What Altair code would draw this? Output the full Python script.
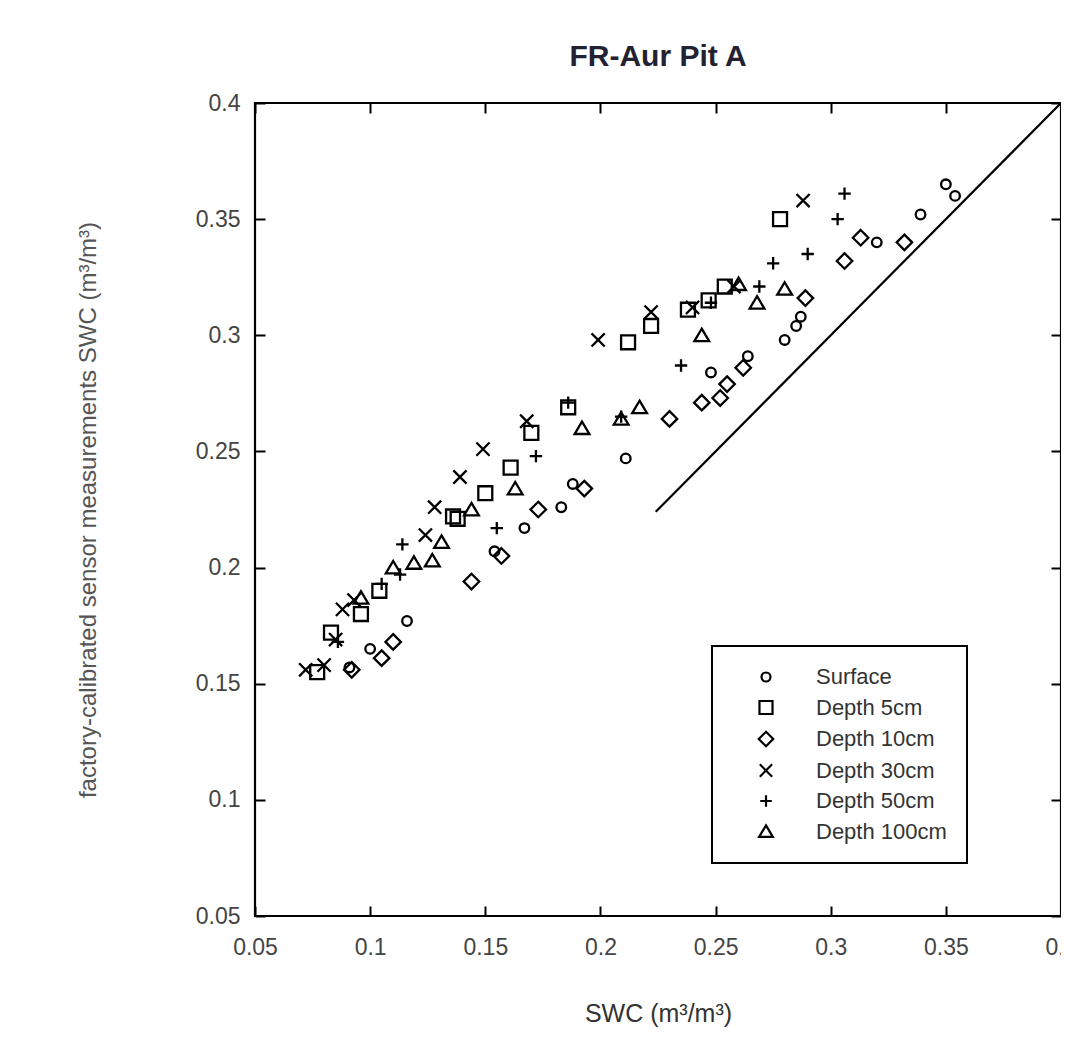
import altair as alt
import pandas as pd

# ---------------- data ----------------
series_names = ["Surface", "Depth 5cm", "Depth 10cm", "Depth 30cm", "Depth 50cm", "Depth 100cm"]

surface_x = [0.091, 0.100, 0.116, 0.154, 0.167, 0.183, 0.188, 0.211, 0.248, 0.264, 0.280, 0.285, 0.287, 0.320, 0.339, 0.350, 0.354]
surface_y = [0.157, 0.165, 0.177, 0.207, 0.217, 0.226, 0.236, 0.247, 0.284, 0.291, 0.298, 0.304, 0.308, 0.340, 0.352, 0.365, 0.360]

d5_x = [0.077, 0.083, 0.096, 0.104, 0.136, 0.138, 0.150, 0.161, 0.170, 0.186, 0.212, 0.222, 0.238, 0.247, 0.254, 0.278]
d5_y = [0.155, 0.172, 0.180, 0.190, 0.222, 0.221, 0.232, 0.243, 0.258, 0.269, 0.297, 0.304, 0.311, 0.315, 0.321, 0.350]

d10_x = [0.092, 0.105, 0.110, 0.144, 0.157, 0.173, 0.193, 0.230, 0.244, 0.252, 0.255, 0.262, 0.289, 0.306, 0.313, 0.332]
d10_y = [0.156, 0.161, 0.168, 0.194, 0.205, 0.225, 0.234, 0.264, 0.271, 0.273, 0.279, 0.286, 0.316, 0.332, 0.342, 0.340]

d30_x = [0.072, 0.080, 0.085, 0.088, 0.093, 0.124, 0.128, 0.139, 0.149, 0.168, 0.199, 0.222, 0.240, 0.258, 0.288]
d30_y = [0.156, 0.158, 0.169, 0.182, 0.186, 0.214, 0.226, 0.239, 0.251, 0.263, 0.298, 0.310, 0.312, 0.321, 0.358]

d50_x = [0.086, 0.105, 0.113, 0.114, 0.155, 0.172, 0.186, 0.209, 0.235, 0.248, 0.269, 0.275, 0.290, 0.303, 0.306]
d50_y = [0.168, 0.193, 0.197, 0.210, 0.217, 0.248, 0.271, 0.265, 0.287, 0.314, 0.321, 0.331, 0.335, 0.350, 0.361]

d100_x = [0.096, 0.110, 0.119, 0.127, 0.131, 0.144, 0.163, 0.192, 0.209, 0.217, 0.244, 0.260, 0.268, 0.280]
d100_y = [0.187, 0.200, 0.202, 0.203, 0.211, 0.225, 0.234, 0.260, 0.264, 0.269, 0.300, 0.322, 0.314, 0.320]

line_x = [0.224, 0.4]
line_y = [0.224, 0.4]

tick_values = [0.05, 0.1, 0.15, 0.2, 0.25, 0.3, 0.35, 0.4]

# marker outlines (custom paths in the -1..1 box)
shape_paths = [
    "M0.62,0A0.62,0.62,0,1,1,-0.62,0A0.62,0.62,0,1,1,0.62,0Z",
    "M-0.9,-0.9L0.9,-0.9L0.9,0.9L-0.9,0.9Z",
    "M0,-1L1,0L0,1L-1,0Z",
    "M-0.85,-0.85L0.85,0.85M-0.85,0.85L0.85,-0.85",
    "M-0.8,0L0.8,0M0,-0.8L0,0.8",
    "M0,-0.85L0.95,0.75L-0.95,0.75Z",
]

rows = []
for name, xs, ys in zip(series_names,
                        [surface_x, d5_x, d10_x, d30_x, d50_x, d100_x],
                        [surface_y, d5_y, d10_y, d30_y, d50_y, d100_y]):
    for a, b in zip(xs, ys):
        rows.append({"x": a, "y": b, "series": name})
df = pd.DataFrame(rows)
diag_df = pd.DataFrame({"x": line_x, "y": line_y})

FONT = "Liberation Sans"
xscale = alt.Scale(domain=[0.05, 0.4], nice=False, zero=False)
yscale = alt.Scale(domain=[0.05, 0.4], nice=False, zero=False)

points = alt.Chart(df).mark_point(
    filled=False, color="black", opacity=1, strokeWidth=2.3, size=240
).encode(
    x=alt.X("x:Q", scale=xscale,
            axis=alt.Axis(orient="bottom", values=tick_values, format="~g",
                          offset=-10, tickSize=10, tickWidth=2, tickColor="black",
                          domain=False, grid=False, labelPadding=20, labelFlush=False,
                          labelFontSize=23, labelColor="#444444", labelFont=FONT,
                          title="SWC (m³/m³)", titleFontSize=25, titleFontWeight="normal",
                          titleColor="#333333", titleFont=FONT, titlePadding=42)),
    y=alt.Y("y:Q", scale=yscale,
            axis=alt.Axis(orient="left", values=tick_values, format="~g",
                          offset=-10, tickSize=10, tickWidth=2, tickColor="black",
                          domain=False, grid=False, labelPadding=15, labelFlush=False,
                          labelFontSize=23, labelColor="#444444", labelFont=FONT,
                          title="factory-calibrated sensor measurements SWC (m³/m³)",
                          titleFontSize=24, titleFontWeight="normal", titleColor="#555555",
                          titleFont=FONT, titlePadding=95)),
    shape=alt.Shape("series:N",
                    scale=alt.Scale(domain=series_names, range=shape_paths),
                    legend=alt.Legend(title=None, orient="none", legendX=457, legendY=543,
                                      strokeColor="black", padding=20,
                                      symbolSize=210, symbolStrokeWidth=2.2,
                                      symbolStrokeColor="black", symbolOffset=23,
                                      labelOffset=39, rowPadding=8.5,
                                      labelFontSize=22, labelColor="#333333",
                                      labelFont=FONT)),
)

diag = alt.Chart(diag_df).mark_line(color="black", strokeWidth=2.2).encode(
    x=alt.X("x:Q", scale=xscale,
            axis=alt.Axis(orient="top", values=tick_values, labels=False, domain=False,
                          grid=False, tickSize=10, tickWidth=2, tickColor="black",
                          offset=-10, title=None)),
    y=alt.Y("y:Q", scale=yscale,
            axis=alt.Axis(orient="right", values=tick_values, labels=False, domain=False,
                          grid=False, tickSize=10, tickWidth=2, tickColor="black",
                          offset=-10, title=None)),
)

chart = alt.layer(points, diag).resolve_axis(
    x="independent", y="independent"
).properties(
    width=806,
    height=813,
    background="white",
    title=alt.TitleParams("FR-Aur Pit A", fontSize=30, fontWeight="bold", font=FONT,
                          color="#222233", anchor="middle", offset=20),
    autosize=alt.AutoSizeParams(type="none"),
    padding={"left": 247, "top": 95, "right": 0, "bottom": 132},
).configure_view(
    stroke="black", strokeWidth=2.2
).configure_legend(
    strokeWidth=2
)

chart.save("out.html", embed_options={"renderer": "svg", "actions": False})
